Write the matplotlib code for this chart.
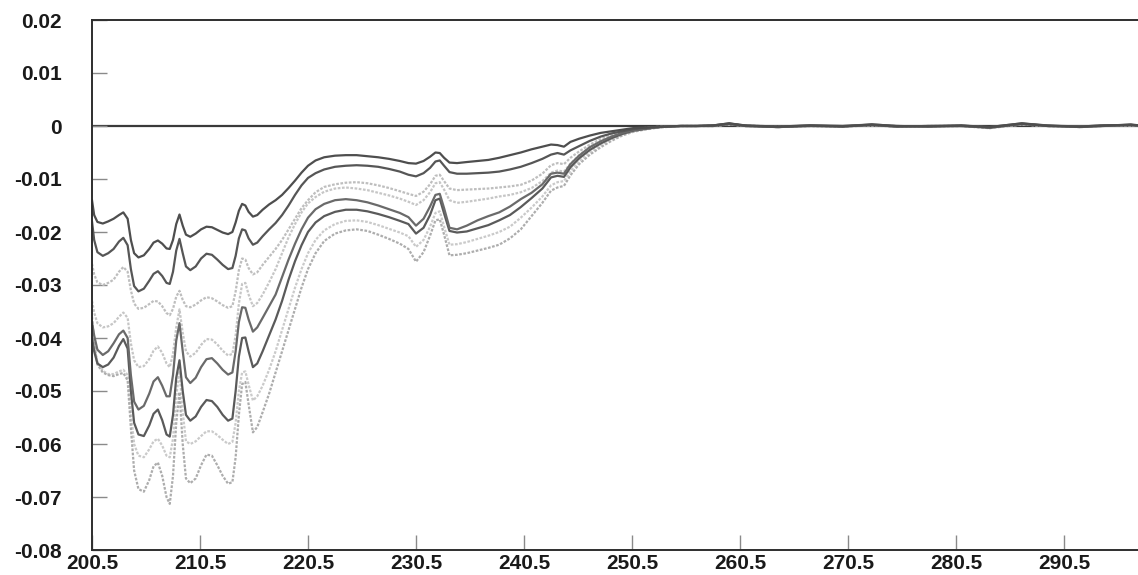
import matplotlib
matplotlib.use("Agg")
import matplotlib.pyplot as plt

# Wavelength (nm) at which each difference spectrum is sampled
wavelength = [
    200.5, 200.7, 201.0, 201.5, 202.0, 202.5, 203.0, 203.4, 203.8, 204.1,
    204.4, 204.8, 205.3, 205.8, 206.2, 206.6, 207.0, 207.4, 207.7, 208.0,
    208.3, 208.6, 208.9, 209.2, 209.6, 210.1, 210.6, 211.1, 211.6, 212.1,
    212.6, 213.1, 213.5, 213.8, 214.1, 214.4, 214.7, 215.0, 215.4, 215.8,
    216.3, 216.9, 217.5, 218.1, 218.7, 219.3, 219.9, 220.5, 221.2, 222.0,
    223.0, 224.0, 225.0, 226.0, 227.0, 228.0, 229.0, 229.8, 230.5, 231.2,
    231.8, 232.3, 232.7, 233.1, 233.6, 234.3, 235.2, 236.2, 237.2, 238.2,
    239.2, 240.2, 241.2, 242.2, 243.0, 243.6, 244.2, 244.8, 245.6, 246.6,
    247.6, 248.6, 249.6, 250.6, 251.6, 252.6, 253.6, 255.0, 256.5, 258.0,
    259.5, 261.0, 264.0, 267.0, 270.0, 272.7, 275.0, 278.0, 281.0, 283.6,
    286.6, 289.0, 292.0, 294.0, 296.7, 297.5, 299.0, 300.5,
]

spec_1 = [
    -0.0140, -0.0168, -0.0181, -0.0184, -0.0180, -0.0175, -0.0168, -0.0163, -0.0175, -0.0215,
    -0.0240, -0.0248, -0.0244, -0.0232, -0.0220, -0.0216, -0.0222, -0.0231, -0.0232, -0.0215,
    -0.0185, -0.0167, -0.0188, -0.0205, -0.0209, -0.0203, -0.0195, -0.0190, -0.0191, -0.0196,
    -0.0201, -0.0204, -0.0200, -0.0182, -0.0160, -0.0147, -0.0150, -0.0162, -0.0171, -0.0168,
    -0.0158, -0.0148, -0.0140, -0.0130, -0.0117, -0.0103, -0.0088, -0.0075, -0.0065, -0.0059,
    -0.0056, -0.0055, -0.0055, -0.0057, -0.0059, -0.0062, -0.0066, -0.0070, -0.0071, -0.0066,
    -0.0058, -0.0050, -0.0051, -0.0060, -0.0069, -0.0070, -0.0068, -0.0066, -0.0064, -0.0060,
    -0.0055, -0.0050, -0.0044, -0.0039, -0.0035, -0.0036, -0.0039, -0.0030, -0.0024, -0.0018,
    -0.0013, -0.0010, -0.0007, -0.0004, -0.0003, -0.0002, -0.0001, 0.0000, 0.0000, 0.0001,
    0.0005, 0.0001, -0.0001, 0.0001, -0.0001, 0.0003, 0.0000, -0.0001, 0.0001, -0.0002,
    0.0005, 0.0000, -0.0001, 0.0001, 0.0002, 0.0001, 0.0000, 0.0000,
]
spec_2 = [
    -0.0180, -0.0215, -0.0238, -0.0245, -0.0240, -0.0232, -0.0218, -0.0211, -0.0225, -0.0270,
    -0.0302, -0.0312, -0.0307, -0.0292, -0.0279, -0.0274, -0.0283, -0.0296, -0.0298, -0.0275,
    -0.0235, -0.0213, -0.0240, -0.0265, -0.0272, -0.0265, -0.0250, -0.0241, -0.0243, -0.0252,
    -0.0262, -0.0270, -0.0268, -0.0245, -0.0212, -0.0195, -0.0197, -0.0212, -0.0224, -0.0220,
    -0.0208, -0.0195, -0.0183, -0.0168, -0.0150, -0.0130, -0.0112, -0.0098, -0.0089, -0.0082,
    -0.0077, -0.0075, -0.0074, -0.0075, -0.0077, -0.0081, -0.0086, -0.0092, -0.0095, -0.0089,
    -0.0079, -0.0067, -0.0065, -0.0075, -0.0087, -0.0090, -0.0090, -0.0089, -0.0088, -0.0086,
    -0.0082, -0.0077, -0.0070, -0.0062, -0.0054, -0.0051, -0.0054, -0.0046, -0.0038, -0.0028,
    -0.0020, -0.0014, -0.0010, -0.0006, -0.0004, -0.0002, -0.0001, 0.0000, 0.0000, 0.0001,
    0.0004, 0.0000, -0.0002, 0.0001, 0.0000, 0.0002, -0.0001, 0.0000, 0.0000, -0.0003,
    0.0004, 0.0001, -0.0002, 0.0000, 0.0003, 0.0001, 0.0000, 0.0000,
]
spec_3 = [
    -0.0260, -0.0280, -0.0295, -0.0300, -0.0296, -0.0290, -0.0275, -0.0266, -0.0275, -0.0310,
    -0.0335, -0.0345, -0.0343, -0.0336, -0.0330, -0.0331, -0.0340, -0.0353, -0.0357, -0.0345,
    -0.0322, -0.0311, -0.0328, -0.0340, -0.0342, -0.0337, -0.0329, -0.0323, -0.0325, -0.0331,
    -0.0338, -0.0343, -0.0340, -0.0312, -0.0272, -0.0250, -0.0252, -0.0268, -0.0280, -0.0276,
    -0.0262, -0.0247, -0.0232, -0.0215, -0.0195, -0.0175, -0.0155, -0.0140, -0.0125, -0.0115,
    -0.0110, -0.0107, -0.0106, -0.0108, -0.0112, -0.0117, -0.0123, -0.0128, -0.0132, -0.0124,
    -0.0110, -0.0094, -0.0092, -0.0104, -0.0118, -0.0121, -0.0120, -0.0119, -0.0118, -0.0116,
    -0.0114, -0.0111, -0.0103, -0.0090, -0.0074, -0.0070, -0.0072, -0.0060, -0.0048, -0.0035,
    -0.0025, -0.0017, -0.0011, -0.0007, -0.0004, -0.0002, -0.0001, 0.0000, 0.0000, 0.0001,
    0.0004, 0.0001, -0.0001, 0.0000, -0.0001, 0.0002, 0.0000, -0.0001, 0.0000, -0.0004,
    0.0004, 0.0000, -0.0001, 0.0000, 0.0002, 0.0000, 0.0000, 0.0000,
]
spec_4 = [
    -0.0330, -0.0352, -0.0372, -0.0380, -0.0378, -0.0372, -0.0360, -0.0352, -0.0362, -0.0410,
    -0.0442, -0.0455, -0.0453, -0.0440, -0.0424, -0.0416, -0.0428, -0.0448, -0.0455, -0.0430,
    -0.0380, -0.0346, -0.0390, -0.0425, -0.0435, -0.0428, -0.0413, -0.0402, -0.0403, -0.0412,
    -0.0424, -0.0433, -0.0430, -0.0395, -0.0335, -0.0298, -0.0296, -0.0318, -0.0340, -0.0334,
    -0.0318, -0.0295, -0.0270, -0.0240, -0.0210, -0.0185, -0.0163, -0.0146, -0.0134, -0.0124,
    -0.0118, -0.0116, -0.0118, -0.0121, -0.0126, -0.0131, -0.0137, -0.0143, -0.0149, -0.0140,
    -0.0125, -0.0108, -0.0106, -0.0120, -0.0140, -0.0145, -0.0143, -0.0140, -0.0137, -0.0133,
    -0.0130, -0.0125, -0.0117, -0.0104, -0.0088, -0.0084, -0.0086, -0.0071, -0.0055, -0.0040,
    -0.0029, -0.0020, -0.0013, -0.0008, -0.0005, -0.0003, -0.0001, 0.0000, 0.0000, 0.0000,
    0.0003, 0.0001, -0.0002, 0.0000, -0.0001, 0.0002, -0.0001, 0.0000, 0.0001, -0.0003,
    0.0003, 0.0000, -0.0002, 0.0001, 0.0002, 0.0000, 0.0000, 0.0000,
]
spec_5 = [
    -0.0370, -0.0395, -0.0422, -0.0432, -0.0425, -0.0410, -0.0393, -0.0386, -0.0400, -0.0470,
    -0.0520, -0.0535, -0.0528, -0.0505, -0.0482, -0.0474, -0.0490, -0.0510, -0.0510, -0.0470,
    -0.0405, -0.0372, -0.0425, -0.0474, -0.0485, -0.0475, -0.0455, -0.0440, -0.0438, -0.0448,
    -0.0460, -0.0469, -0.0465, -0.0425, -0.0370, -0.0342, -0.0343, -0.0365, -0.0388, -0.0380,
    -0.0362, -0.0340, -0.0318, -0.0285, -0.0252, -0.0222, -0.0195, -0.0173, -0.0157, -0.0147,
    -0.0140, -0.0138, -0.0140, -0.0144, -0.0150, -0.0157, -0.0164, -0.0172, -0.0188, -0.0175,
    -0.0152, -0.0130, -0.0128, -0.0155, -0.0192, -0.0195, -0.0188, -0.0178, -0.0170, -0.0163,
    -0.0152, -0.0138, -0.0126, -0.0110, -0.0090, -0.0088, -0.0090, -0.0072, -0.0056, -0.0040,
    -0.0029, -0.0020, -0.0013, -0.0008, -0.0005, -0.0003, -0.0001, 0.0000, 0.0000, 0.0001,
    0.0005, 0.0000, -0.0001, 0.0001, 0.0000, 0.0003, 0.0000, -0.0001, 0.0000, -0.0002,
    0.0005, 0.0001, -0.0001, 0.0000, 0.0002, 0.0001, 0.0000, 0.0000,
]
spec_6 = [
    -0.0400, -0.0425, -0.0448, -0.0455, -0.0450, -0.0437, -0.0415, -0.0402, -0.0420, -0.0500,
    -0.0560, -0.0582, -0.0585, -0.0565, -0.0543, -0.0535, -0.0555, -0.0582, -0.0586, -0.0545,
    -0.0475, -0.0442, -0.0500, -0.0545, -0.0556, -0.0548, -0.0530, -0.0517, -0.0519, -0.0530,
    -0.0545, -0.0556, -0.0552, -0.0500, -0.0435, -0.0400, -0.0399, -0.0425, -0.0455, -0.0448,
    -0.0425, -0.0395, -0.0365, -0.0330, -0.0290, -0.0255, -0.0225, -0.0200, -0.0182, -0.0170,
    -0.0162, -0.0158, -0.0158, -0.0161, -0.0166, -0.0172, -0.0179, -0.0185, -0.0203, -0.0192,
    -0.0168, -0.0140, -0.0137, -0.0165, -0.0198, -0.0201, -0.0199, -0.0193, -0.0187, -0.0178,
    -0.0168, -0.0153, -0.0136, -0.0118, -0.0097, -0.0094, -0.0096, -0.0078, -0.0061, -0.0045,
    -0.0033, -0.0023, -0.0015, -0.0009, -0.0006, -0.0003, -0.0001, 0.0000, 0.0000, 0.0000,
    0.0004, 0.0001, -0.0002, 0.0000, -0.0001, 0.0002, -0.0001, 0.0000, 0.0001, -0.0003,
    0.0004, 0.0000, -0.0001, 0.0001, 0.0002, 0.0000, 0.0000, 0.0000,
]
spec_7 = [
    -0.0380, -0.0415, -0.0445, -0.0462, -0.0468, -0.0468, -0.0463, -0.0460, -0.0470, -0.0540,
    -0.0600, -0.0622, -0.0625, -0.0610, -0.0595, -0.0590, -0.0603, -0.0622, -0.0625, -0.0590,
    -0.0510, -0.0462, -0.0540, -0.0595, -0.0600, -0.0595, -0.0585, -0.0576, -0.0576, -0.0583,
    -0.0592, -0.0600, -0.0596, -0.0560, -0.0500, -0.0465, -0.0463, -0.0488, -0.0518, -0.0510,
    -0.0490, -0.0460, -0.0425, -0.0385, -0.0345, -0.0305, -0.0270, -0.0240, -0.0215, -0.0197,
    -0.0185, -0.0179, -0.0178, -0.0181, -0.0187, -0.0194, -0.0201, -0.0208, -0.0228, -0.0215,
    -0.0190, -0.0164, -0.0161, -0.0190, -0.0224, -0.0223, -0.0219, -0.0213, -0.0207, -0.0200,
    -0.0190, -0.0173, -0.0154, -0.0133, -0.0112, -0.0106, -0.0104, -0.0085, -0.0066, -0.0049,
    -0.0036, -0.0025, -0.0016, -0.0010, -0.0006, -0.0003, -0.0001, 0.0000, 0.0000, 0.0000,
    0.0003, 0.0000, -0.0002, 0.0000, -0.0001, 0.0001, -0.0001, -0.0001, 0.0000, -0.0004,
    0.0003, 0.0000, -0.0002, 0.0000, 0.0001, 0.0000, 0.0000, 0.0000,
]
spec_8 = [
    -0.0360, -0.0410, -0.0450, -0.0465, -0.0470, -0.0472, -0.0468, -0.0466, -0.0480, -0.0570,
    -0.0650, -0.0685, -0.0690, -0.0668, -0.0642, -0.0635, -0.0660, -0.0700, -0.0713, -0.0660,
    -0.0560, -0.0502, -0.0600, -0.0665, -0.0674, -0.0665, -0.0640, -0.0620, -0.0622, -0.0640,
    -0.0660, -0.0675, -0.0672, -0.0625, -0.0545, -0.0487, -0.0483, -0.0525, -0.0578, -0.0568,
    -0.0540, -0.0505, -0.0465, -0.0425, -0.0385, -0.0345, -0.0305, -0.0270, -0.0240, -0.0217,
    -0.0203, -0.0197, -0.0195, -0.0198, -0.0205, -0.0213, -0.0222, -0.0232, -0.0256, -0.0238,
    -0.0207, -0.0178, -0.0176, -0.0205, -0.0244, -0.0243, -0.0240, -0.0235, -0.0230, -0.0224,
    -0.0212, -0.0195, -0.0170, -0.0145, -0.0122, -0.0116, -0.0113, -0.0093, -0.0072, -0.0054,
    -0.0040, -0.0028, -0.0018, -0.0011, -0.0007, -0.0004, -0.0002, 0.0000, 0.0000, 0.0000,
    0.0003, 0.0000, -0.0002, 0.0000, -0.0001, 0.0001, -0.0001, 0.0000, 0.0000, -0.0004,
    0.0003, 0.0000, -0.0001, 0.0000, 0.0001, 0.0000, 0.0000, 0.0000,
]

x_ticks = [200.5, 210.5, 220.5, 230.5, 240.5, 250.5, 260.5, 270.5, 280.5, 290.5]
y_ticks = [0.02, 0.01, 0.0, -0.01, -0.02, -0.03, -0.04, -0.05, -0.06, -0.07, -0.08]
y_tick_labels = ["0.02", "0.01", "0", "-0.01", "-0.02", "-0.03", "-0.04",
                 "-0.05", "-0.06", "-0.07", "-0.08"]

# (series, colour, linestyle) - pale traces first so the darker ones sit on top
dotted = (0, (1.2, 0.7))
traces = [
    (spec_7, "#cacaca", dotted),
    (spec_4, "#c6c6c6", dotted),
    (spec_3, "#bebebe", dotted),
    (spec_8, "#adadad", dotted),
    (spec_6, "#5a5a5a", "-"),
    (spec_5, "#6a6a6a", "-"),
    (spec_2, "#565656", "-"),
    (spec_1, "#4e4e4e", "-"),
]

plt.rcParams["font.family"] = ["Liberation Sans", "DejaVu Sans"]

W, H = 1138, 575
fig = plt.figure(figsize=(W / 100, H / 100), dpi=100)
fig.patch.set_facecolor("white")

# plot area: left edge at 92 px, 10 nm = 108 px, running past the right edge
left_px, top_px, bottom_px = 92, 20, 550
x_min, x_max = 200.5, 300.5
width_px = (x_max - x_min) * 10.8
ax = fig.add_axes([left_px / W, 1 - bottom_px / H, width_px / W, (bottom_px - top_px) / H])

ax.axhline(0, color="#3a3a3a", lw=1.6, zorder=1)
for series, colour, ls in traces:
    ax.plot(wavelength, series, color=colour, lw=1.6, ls=ls, zorder=2,
            solid_joinstyle="round", dash_joinstyle="round")

ax.set_xlim(x_min, x_max)
ax.set_ylim(-0.08, 0.02)
ax.set_xticks(x_ticks)
ax.set_xticklabels([f"{v:.1f}" for v in x_ticks])
ax.set_yticks(y_ticks)
ax.set_yticklabels(y_tick_labels)

ax.tick_params(axis="y", direction="in", length=11, width=1, color="#8a8a8a",
               pad=22, labelsize=15, labelcolor="#1a1a1a")
ax.tick_params(axis="x", direction="in", length=11, width=1, color="#8a8a8a",
               pad=3, labelsize=15, labelcolor="#1a1a1a")
for lab in ax.get_xticklabels() + ax.get_yticklabels():
    lab.set_fontweight("bold")

for side in ("left", "bottom", "top"):
    ax.spines[side].set_color("#2e2e2e")
    ax.spines[side].set_linewidth(1.4)
ax.spines["right"].set_visible(False)

fig.savefig("out.png", dpi=100, facecolor="white")
